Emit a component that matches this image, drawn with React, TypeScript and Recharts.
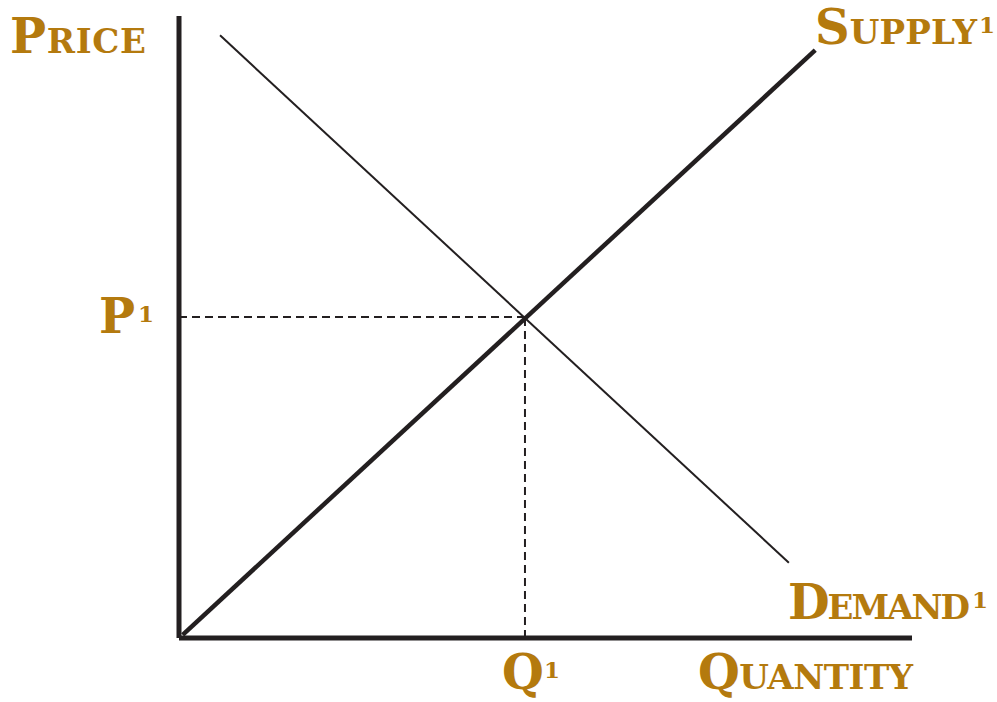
import { ComposedChart, Line, XAxis, YAxis, ReferenceLine } from 'recharts'

// quantity / price (axis scale 0..100 both ways)
const supplyQ = [0.5, 86.8]
const supplyP = [0.5, 94.5]
const demandQ = [5.6, 83.2]
const demandP = [96.9, 12.1]
const equilibriumQ = 47.2
const equilibriumP = 51.6

const supplyData = supplyQ.map((q, i) => ({ q, p: supplyP[i] }))
const demandData = demandQ.map((q, i) => ({ q, p: demandP[i] }))

const INK = '#231F20'
const GOLD = '#B47A0E'
const FONT = '"DejaVu Serif", "Liberation Serif", serif'

// big cap + small caps rest + optional superscript 1
const Caps = ({ x, y, first, rest, width, sup, supX }: {
    x: number; y: number; first: string; rest?: string; width?: number; sup?: boolean; supX?: number
}) => (
    <>
        <text
            x={x}
            y={y}
            textLength={width}
            lengthAdjust={width ? 'spacing' : undefined}
            fill={GOLD}
            fontFamily={FONT}
            fontWeight="bold"
        >
            <tspan fontSize={48}>{first}</tspan>
            {rest && <tspan fontSize={34}>{rest}</tspan>}
        </text>
        {sup && (
            <text x={supX} y={y - 11} fill={GOLD} fontFamily={FONT} fontWeight="bold" fontSize={23}>1</text>
        )}
    </>
)

const App = () => {
    return (
        <div style={{ position: 'absolute', left: 0, top: 0, width: 997, height: 702, background: '#fff' }}>
            <ComposedChart width={997} height={702} margin={{ top: 16, right: 85, bottom: 64, left: 179 }}>
                <XAxis type="number" dataKey="q" domain={[0, 100]} hide />
                <YAxis type="number" dataKey="p" domain={[0, 100]} hide />
                {/* axes */}
                <ReferenceLine x={0} stroke={INK} strokeWidth={5} />
                <ReferenceLine y={0} stroke={INK} strokeWidth={5} />
                <ReferenceLine
                    segment={[{ x: 0, y: equilibriumP }, { x: equilibriumQ, y: equilibriumP }]}
                    stroke={INK}
                    strokeWidth={2}
                    strokeDasharray="8 5"
                />
                <ReferenceLine
                    segment={[{ x: equilibriumQ, y: 0 }, { x: equilibriumQ, y: equilibriumP }]}
                    stroke={INK}
                    strokeWidth={2}
                    strokeDasharray="8 5"
                />
                <Line data={demandData} dataKey="p" type="linear" stroke={INK} strokeWidth={2} dot={false} isAnimationActive={false} />
                <Line data={supplyData} dataKey="p" type="linear" stroke={INK} strokeWidth={4.5} dot={false} isAnimationActive={false} />
            </ComposedChart>
            <svg width={997} height={702} style={{ position: 'absolute', left: 0, top: 0, pointerEvents: 'none' }}>
                <Caps x={10} y={53} first="P" rest="RICE" width={136} />
                <Caps x={815} y={44} first="S" rest="UPPLY" width={162} sup supX={979} />
                <Caps x={99} y={333} first="P" sup supX={138} />
                <Caps x={788} y={619} first="D" rest="EMAND" width={182} sup supX={972} />
                <Caps x={502} y={689} first="Q" sup supX={544} />
                <Caps x={698} y={689} first="Q" rest="UANTITY" width={215} />
            </svg>
        </div>
    )
}

export default App
